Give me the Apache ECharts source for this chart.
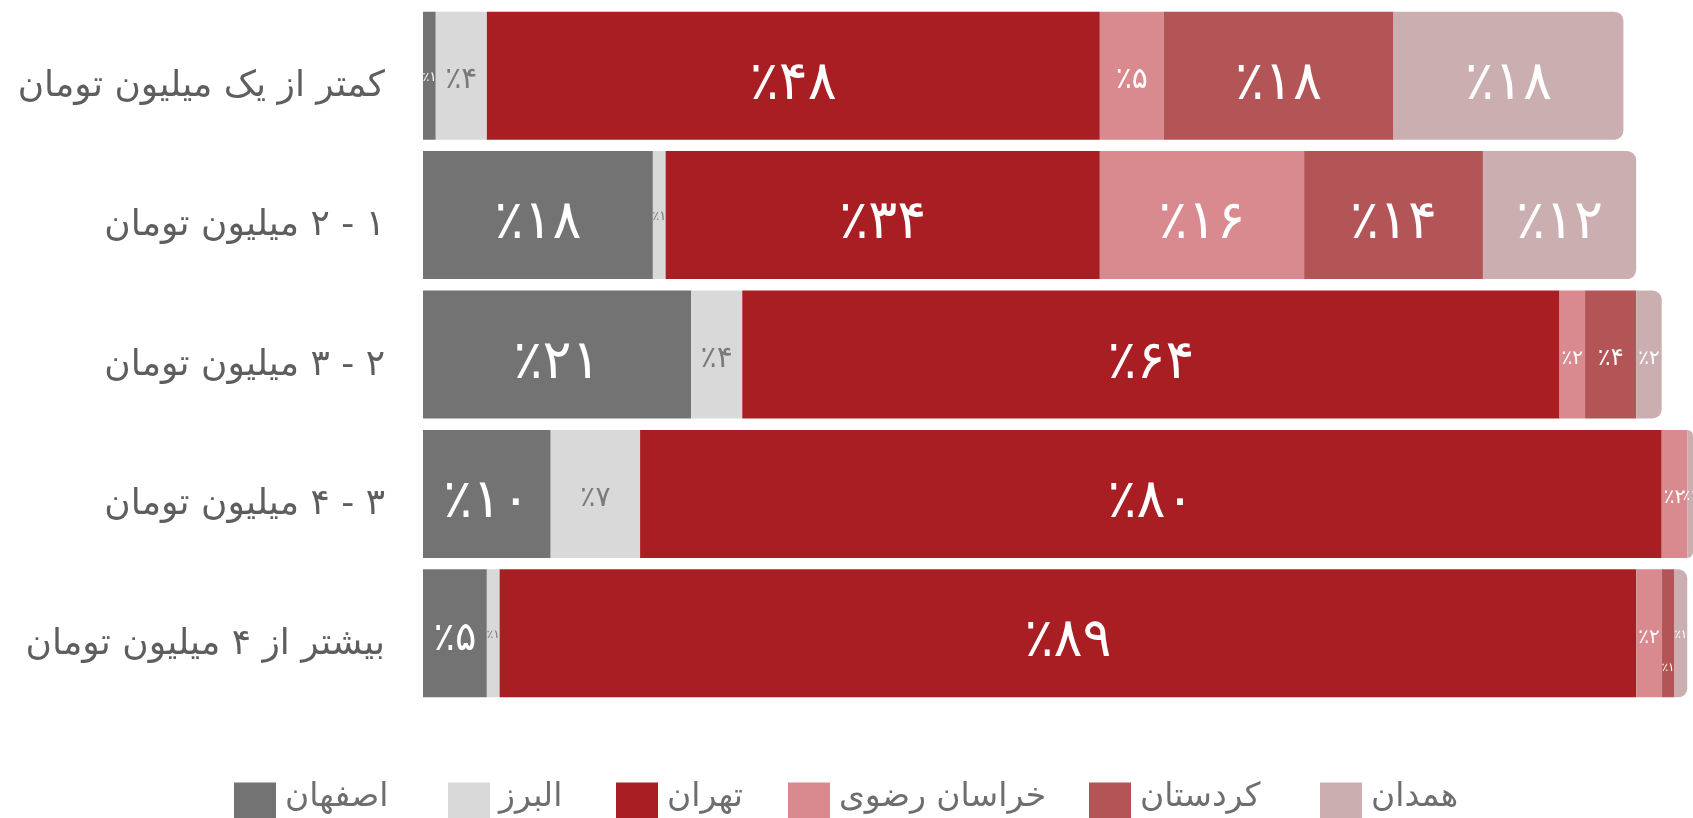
<!DOCTYPE html>
<html lang="fa">
<head>
<meta charset="utf-8">
<title>توزیع درآمد به تفکیک استان</title>
<script src="https://cdn.jsdelivr.net/npm/echarts@6/dist/echarts.min.js"></script>
<style>
  html, body { margin: 0; padding: 0; background: #ffffff; }
  #chart { width: 1693px; height: 818px; direction: rtl; }
</style>
</head>
<body>
<div id="chart"></div>
<script>
// Income brackets (rows, top to bottom)
const categories = [
  'کمتر از یک میلیون تومان',
  '۱ - ۲ میلیون تومان',
  '۲ - ۳ میلیون تومان',
  '۳ - ۴ میلیون تومان',
  'بیشتر از ۴ میلیون تومان'
];

// Province names (stack order, left to right)
const provinces = ['اصفهان', 'البرز', 'تهران', 'خراسان رضوی', 'کردستان', 'همدان'];

// Share of each province per bracket, percent
const isfahan   = [1, 18, 21, 10, 5];
const alborz    = [4, 1, 4, 7, 1];
const tehran    = [48, 34, 64, 80, 89];
const khorasan  = [5, 16, 2, 2, 2];
const kordestan = [18, 14, 4, 0, 1];
const hamedan   = [18, 12, 2, 1, 1];

const seriesValues = [isfahan, alborz, tehran, khorasan, kordestan, hamedan];

// Styling
const colors = ['#737373', '#d9d9d9', '#a91e23', '#d98a8e', '#b35456', '#cbafb0'];
const labelColors = ['#ffffff', '#7a7a7a', '#ffffff', '#ffffff', '#ffffff', '#ffffff'];
const labelSizes = [
  [13, 54, 54, 54, 40],
  [30, 13, 30, 28, 12],
  [54, 54, 54, 54, 54],
  [30, 54, 20, 20, 20],
  [54, 54, 24, 0, 12],
  [54, 54, 20, 14, 12]
];
const labelShiftY = [
  [2, 9, 9, 9, 6],
  [5, 2, 5, 5, 2],
  [9, 9, 9, 9, 9],
  [5, 9, 4, 4, 4],
  [9, 9, 4, 0, 35],
  [9, 9, 4, 2, 2]
];
const legendLeft = [229, 443, 611, 783, 1084, 1315];

const FONT = '"DejaVu Sans", sans-serif';
const faDigits = '۰۱۲۳۴۵۶۷۸۹';
function toFa(n) {
  return String(n).replace(/[0-9]/g, d => faDigits[+d]);
}

const series = provinces.map((name, si) => ({
  name: name,
  type: 'bar',
  stack: 'total',
  barWidth: 128,
  itemStyle: {
    color: colors[si],
    borderRadius: si === provinces.length - 1 ? [0, 9, 9, 0] : 0
  },
  label: {
    show: true,
    position: 'inside',
    color: labelColors[si],
    fontFamily: FONT,
    formatter: p => (p.value > 0 ? '٪' + toFa(p.value) : '')
  },
  emphasis: { disabled: true },
  data: seriesValues[si].map((v, ci) => ({
    value: v,
    label: {
      show: v > 0,
      fontSize: labelSizes[si][ci] || 12,
      offset: [0, labelShiftY[si][ci]]
    }
  }))
}));

const legends = provinces.map((name, i) => ({
  data: [name],
  left: legendLeft[i],
  top: 776,
  orient: 'horizontal',
  icon: 'rect',
  itemWidth: 42,
  itemHeight: 42,
  itemGap: 18,
  selectedMode: false,
  formatter: n => '{t|' + n + '}',
  textStyle: {
    fontFamily: FONT,
    fontSize: 33,
    color: '#6e6e6e',
    rich: {
      t: { fontFamily: FONT, fontSize: 33, color: '#6e6e6e', padding: [0, 0, 12, 4] }
    }
  }
}));

const chart = echarts.init(document.getElementById('chart'), null, { renderer: 'canvas' });
chart.setOption({
  backgroundColor: '#ffffff',
  animation: false,
  color: colors,
  legend: legends,
  grid: { left: 423, top: 6, right: 0, height: 697, containLabel: false },
  xAxis: {
    type: 'value',
    min: 0,
    max: 99.45,
    show: false
  },
  yAxis: {
    type: 'category',
    data: categories,
    inverse: true,
    axisLine: { show: false },
    axisTick: { show: false },
    splitLine: { show: false },
    axisLabel: {
      margin: 38,
      fontFamily: FONT,
      fontSize: 36,
      color: '#5e5e5e',
      verticalAlign: 'top',
      lineHeight: 22
    }
  },
  series: series
});
</script>
</body>
</html>
